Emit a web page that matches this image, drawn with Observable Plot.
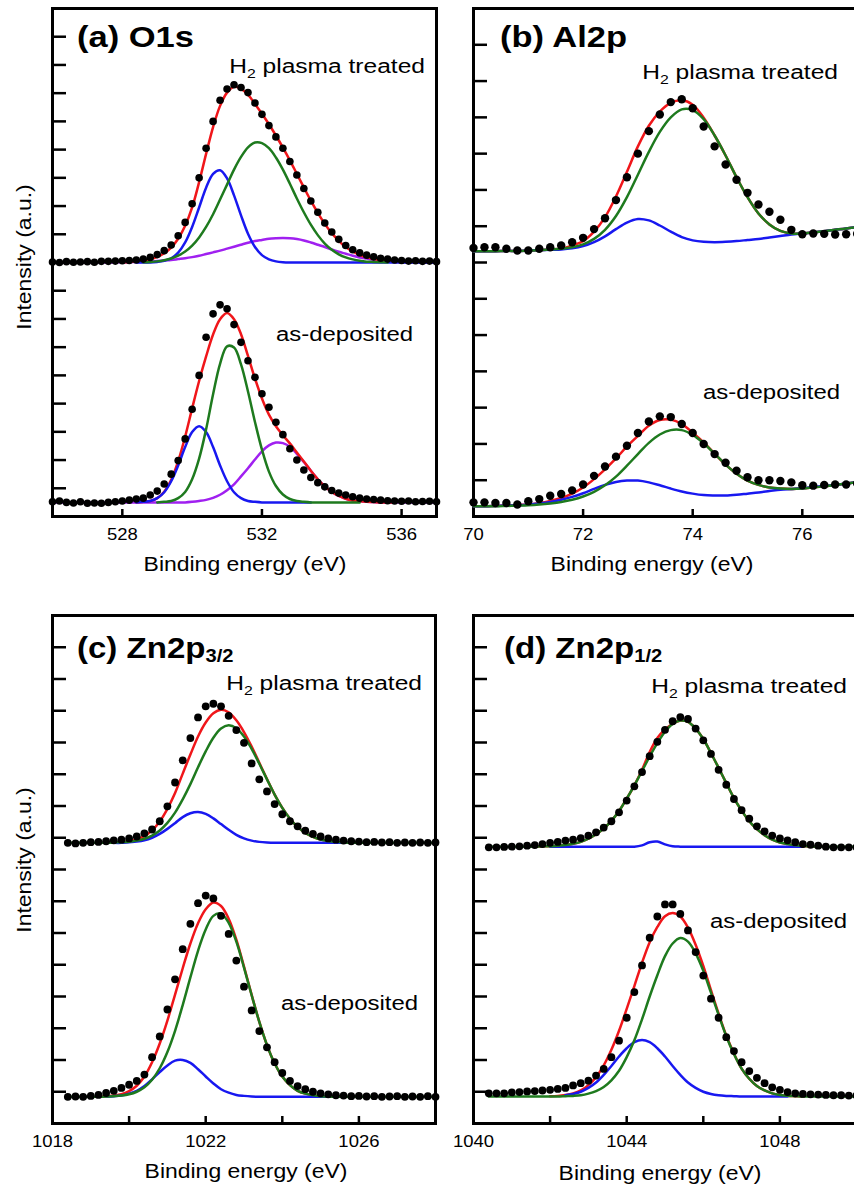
<!DOCTYPE html>
<html><head><meta charset="utf-8">
<script src="https://cdn.jsdelivr.net/npm/d3@7"></script>
<script src="https://cdn.jsdelivr.net/npm/@observablehq/plot@0.6"></script>
<style>
html,body{margin:0;padding:0;background:#fff;overflow:hidden;width:854px;height:1189px;}
#fig{position:relative;width:854px;height:1189px;overflow:hidden;}
</style></head>
<body><div id="fig"></div>
<script>
const _ = null;
// ---------- (a) O1s ----------
const eA = [526.0,526.2,526.4,526.6,526.8,527.0,527.2,527.4,527.6,527.8,528.0,528.2,528.4,528.6,528.8,529.0,529.2,529.4,529.6,529.8,530.0,530.2,530.4,530.6,530.8,531.0,531.2,531.4,531.6,531.8,532.0,532.2,532.4,532.6,532.8,533.0,533.2,533.4,533.6,533.8,534.0,534.2,534.4,534.6,534.8,535.0,535.2,535.4,535.6,535.8,536.0,536.2,536.4,536.6,536.8,537.0];
const aPlasmaDots = [0.02,0,0.03,0.01,0.02,0.03,0.01,0.04,0.04,0.05, 0.06,0.07,0.09,0.12,0.18,0.28,0.42,0.62,0.95,1.42, 2.08,3.0,4.05,5.0,5.75,6.15,6.3,6.2,6.02,5.65, 5.25,4.85,4.45,4.05,3.58,3.1,2.62,2.18,1.78,1.4, 1.08,0.82,0.6,0.45,0.34,0.26,0.2,0.15,0.12,0.09, 0.07,0.05,0.06,0.04,0.05,0.03];
const aPlasmaRed = [_,_,_,_,_,_,_,_,_,_, 0.01,0.02,0.04,0.07,0.12,0.2,0.33,0.53,0.84,1.3, 1.95,2.85,3.85,4.8,5.55,6.02,6.23,6.15,5.95,5.62, 5.27,4.9,4.5,4.07,3.62,3.14,2.66,2.19,1.76,1.37, 1.04,0.77,0.55,0.39,0.27,0.18,0.12,0.08,0.05,0.03, 0.02,_,_,_,_,_];
const aPlasmaBlue = [_,_,_,_,_,_,_,_,_,_, _,_,0,0,0,0.02,0.06,0.15,0.35,0.71, 1.26,1.95,2.65,3.14,3.27,2.98,2.38,1.67,1.02,0.55, 0.26,0.11,0.04,0.01,0,0,0,0,0,0, 0,0,0,0,0,0,0,0,0,0, 0,0,0,0,0,0];
const aPlasmaGreen = [_,_,_,_,_,_,_,_,_,_, _,_,_,0.01,0.02,0.04,0.08,0.14,0.24,0.39, 0.6,0.89,1.26,1.71,2.23,2.76,3.29,3.74,4.08,4.25, 4.23,4.05,3.72,3.29,2.79,2.27,1.78,1.34,0.97,0.67, 0.45,0.29,0.18,0.11,0.06,0.03,0.02,0.01,0,_, _,_,_,_,_,_];
const aPlasmaPurple = [0,0,0,0,0,0,0,0,0,0, 0.01,0.01,0.02,0.02,0.03,0.05,0.07,0.09,0.12,0.15, 0.19,0.24,0.3,0.36,0.42,0.49,0.56,0.63,0.7,0.76, 0.8,0.84,0.86,0.87,0.86,0.83,0.78,0.71,0.63,0.55, 0.46,0.38,0.31,0.24,0.18,0.14,0.1,0.07,0.05,0.03, 0.02,0.01,0.01,0,0,0];
const aAsDots = [0.02,0.05,0,-0.02,0.02,-0.03,-0.02,-0.03,0,0.02, 0.05,0.08,0.12,0.15,0.26,0.4,0.65,1.0,1.48,2.25, 3.3,4.5,5.85,6.68,7.0,6.86,6.3,5.67,5.02,4.43, 3.85,3.37,2.84,2.4,1.9,1.5,1.15,0.88,0.7,0.55, 0.42,0.33,0.26,0.2,0.15,0.12,0.1,0.08,0.06,0.05, 0.04,0.05,0.02,0.03,0.04,0.02];
const aAsRed = [_,_,_,_,_,_,_,_,_,_, _,_,0,0.02,0.05,0.15,0.38,0.8,1.46,2.33, 3.33,4.3,5.17,5.95,6.49,6.71,6.49,5.96,5.19,4.39, 3.68,3.11,2.7,2.38,2.09,1.77,1.45,1.12,0.82,0.57, 0.37,0.23,0.13,0.07,0.04,0.02,0.01,0,0,0, _,_,_,_,_,_];
const aAsBlue = [_,_,_,_,_,_,_,_,_,_, _,_,0,0.02,0.05,0.15,0.36,0.75,1.31,1.96, 2.49,2.7,2.49,1.96,1.31,0.75,0.36,0.15,0.05,0.02, 0,0,0,0,0,0,0,0,_,_, _,_,_,_,_,_,_,_,_,_, _,_,_,_,_,_];
const aAsGreen = [_,_,_,_,_,_,_,_,_,_, _,_,_,_,_,0,0.02,0.05,0.15,0.37, 0.82,1.55,2.59,3.83,4.91,5.53,5.49,4.89,3.93,2.85, 1.87,1.09,0.58,0.28,0.12,0.05,0.02,0,0,0, 0,0,0,0,0,_,_,_,_,_, _,_,_,_,_,_];
const aAsPurple = [0,0,0,0,0,0,0,0,0,0, 0,0,0,0,0,0,0,0,0,0, 0.02,0.05,0.09,0.16,0.27,0.43,0.64,0.92,1.21,1.52, 1.81,2.02,2.12,2.1,1.97,1.72,1.43,1.12,0.82,0.57, 0.37,0.23,0.13,0.07,0.04,0.02,0.01,0,0,0, 0,0,0,0,0,0];
const aOffsets = [9.0, 0.5];
const aYTicks = [1,2,3,4,5,6,7,8,9,10,11,12,13,14,15,16,17];
const aXTicks = [528,532,536];
const aXLabels = [528,532,536];

// ---------- (b) Al2p ----------
const eB = [70.0,70.2,70.4,70.6,70.8,71.0,71.2,71.4,71.6,71.8,72.0,72.2,72.4,72.6,72.8,73.0,73.2,73.4,73.6,73.8,74.0,74.2,74.4,74.6,74.8,75.0,75.2,75.4,75.6,75.8,76.0,76.2,76.4,76.6,76.8,77.0];
const bPlasmaDots = [7.40,7.42,7.42,7.38,7.33,7.33,7.38,7.42,7.47,7.56, 7.68,7.92,8.22,8.72,9.35,10.0,10.62,11.08,11.42,11.5, 11.25,10.75,10.2,9.7,9.28,8.92,8.6,8.4,8.18,7.9, 7.78,7.8,7.79,7.77,7.78,7.79];
const bPlasmaRed = [7.31,7.31,7.31,7.32,7.32,7.33,7.34,7.36,7.38,7.47, 7.59,7.85,8.25,8.82,9.5,10.2,10.77,11.16,11.4,11.47, 11.35,10.99,10.5,9.95,9.35,8.8,8.35,8.05,7.87,7.8, 7.8,7.83,7.86,7.9,7.94,7.97];
const bPlasmaBlue = [7.31,7.31,7.31,7.32,7.32,7.33,7.34,7.35,7.36,7.39, 7.45,7.56,7.72,7.92,8.1,8.2,8.16,8.02,7.85,7.7, 7.61,7.57,7.56,7.57,7.59,7.62,7.65,7.69,7.73,7.77, 7.8,7.83,7.86,7.9,7.94,7.97];
const bPlasmaGreen = [7.31,7.31,7.31,7.32,7.32,7.33,7.34,7.36,7.38,7.42, 7.5,7.65,7.9,8.28,8.8,9.42,10.05,10.6,11.0,11.22, 11.2,10.95,10.5,9.95,9.35,8.8,8.35,8.05,7.87,7.8, 7.8,7.83,7.86,7.9,7.94,7.97];
const bAsDots = [0.39,0.39,0.37,0.37,0.33,0.42,0.48,0.57,0.62,0.72, 0.88,1.12,1.38,1.65,1.95,2.3,2.62,2.76,2.74,2.55, 2.3,2.0,1.72,1.48,1.26,1.08,1.0,1.0,0.98,0.94, 0.86,0.85,0.87,0.88,0.88,0.91];
const bAsRed = [0.28,0.28,0.29,0.3,0.32,0.33,0.37,0.43,0.51,0.63, 0.8,1.03,1.3,1.6,1.93,2.22,2.5,2.66,2.67,2.55, 2.31,2.04,1.73,1.43,1.18,0.99,0.87,0.8,0.77,0.76, 0.77,0.8,0.83,0.87,0.91,0.95];
const bAsBlue = [0.28,0.28,0.29,0.3,0.31,0.33,0.36,0.4,0.46,0.54, 0.64,0.76,0.87,0.95,0.99,0.99,0.94,0.86,0.77,0.69, 0.63,0.59,0.58,0.58,0.6,0.63,0.66,0.7,0.74,0.76, 0.78,0.81,0.84,0.87,0.91,0.95];
const bAsGreen = [0.28,0.28,0.28,0.29,0.3,0.31,0.33,0.36,0.4,0.46, 0.55,0.68,0.86,1.1,1.4,1.72,2.03,2.26,2.38,2.38, 2.25,2.02,1.73,1.43,1.18,0.99,0.87,0.8,0.77,0.76, 0.77,0.8,0.83,0.87,0.91,0.95];
const bOffsets = [0, 0];
const bYTicks = [1,2,3,4,5,6,7,8,9,10,11,12,13];
const bXTicks = [72,74,76];
const bXLabels = [70,72,74,76];

// ---------- (c) Zn2p3/2 ----------
const eC = [1018.4,1018.6,1018.8,1019.0,1019.2,1019.4,1019.6,1019.8,1020.0,1020.2,1020.4,1020.6,1020.8,1021.0,1021.2,1021.4,1021.6,1021.8,1022.0,1022.2,1022.4,1022.6,1022.8,1023.0,1023.2,1023.4,1023.6,1023.8,1024.0,1024.2,1024.4,1024.6,1024.8,1025.0,1025.2,1025.4,1025.6,1025.8,1026.0,1026.2,1026.4,1026.6,1026.8,1027.0,1027.2,1027.4,1027.6,1027.8,1028.0];
const cPlasmaDots = [0,-0.02,0,0.02,0.03,0.05,0.08,0.1,0.14,0.2, 0.3,0.42,0.68,1.15,1.9,2.6,3.3,3.95,4.3,4.38, 4.3,4.0,3.55,3.15,2.5,2.0,1.62,1.22,0.9,0.68, 0.52,0.38,0.28,0.2,0.14,0.1,0.07,0.05,0.04,0.02, 0.03,0.01,0.02,0,0.01,0,0.01,0,0.01];
const cPlasmaRed = [_,_,_,_,_,0,0.01,0.02,0.05,0.11, 0.21,0.39,0.67,1.07,1.57,2.18,2.78,3.35,3.79,4.08, 4.19,4.11,3.86,3.49,3.03,2.52,2.01,1.52,1.1,0.76, 0.5,0.31,0.19,0.1,0.06,0.03,0.01,0,0,_, _,_,_,_,_,_,_,_,_];
const cPlasmaBlue = [_,_,_,_,_,_,0,0,0.02,0.04, 0.08,0.16,0.28,0.44,0.62,0.81,0.93,0.97,0.91,0.77, 0.59,0.41,0.25,0.14,0.07,0.03,0.01,0,0,0, 0,0,0,0,0,0,0,0,_,_, _,_,_,_,_,_,_,_,_];
const cPlasmaGreen = [0,0,0,0,0,0,0.01,0.02,0.03,0.07, 0.13,0.23,0.39,0.63,0.95,1.37,1.85,2.38,2.88,3.31, 3.6,3.7,3.61,3.35,2.96,2.49,2.0,1.52,1.1,0.76, 0.5,0.31,0.19,0.1,0.06,0.03,0.01,0,0,0, 0,0,0,0,0,0,0,0,0];
const cAsDots = [0,0.01,0,0.03,0.06,0.12,0.19,0.28,0.38,0.5, 0.7,1.25,1.9,2.75,3.7,4.65,5.45,6.1,6.34,6.25, 5.7,5.13,4.29,3.47,2.72,2.07,1.56,1.09,0.75,0.5, 0.34,0.24,0.16,0.11,0.08,0.05,0.04,0.02,0.03,0.01, 0.02,0,0.01,0.02,0,0.01,0,0.02,0];
const cAsRed = [_,_,_,_,0,0.02,0.04,0.08,0.18,0.35, 0.64,1.09,1.68,2.4,3.22,4.05,4.83,5.47,5.91,6.12, 6.01,5.61,4.95,4.1,3.21,2.36,1.63,1.05,0.64,0.37, 0.19,0.1,0.05,0.02,0.01,0,0,_,_,_, _,_,_,_,_,_,_,_,_];
const cAsBlue = [_,_,_,_,_,0.01,0.02,0.04,0.1,0.19, 0.34,0.55,0.78,0.99,1.14,1.16,1.07,0.87,0.64,0.42, 0.24,0.13,0.06,0.03,0.01,0,0,0,0,0, 0,0,0,0,0,_,_,_,_,_, _,_,_,_,_,_,_,_,_];
const cAsGreen = [0,0,0,0,0,0.01,0.02,0.04,0.08,0.16, 0.3,0.54,0.9,1.41,2.08,2.89,3.76,4.6,5.27,5.7, 5.77,5.48,4.89,4.07,3.2,2.36,1.63,1.05,0.64,0.37, 0.19,0.1,0.05,0.02,0.01,0,0,0,0,0, 0,0,0,0,0,0,0,0,0];
const cOffsets = [8.84, 0.84];
const cYTicks = [1,2,3,4,5,6,7,8,9,10,11,12,13,14,15];
const cXTicks = [1020,1022,1024,1026];
const cXLabels = [1018,1022,1026];

// ---------- (d) Zn2p1/2 ----------
const eD = [1040.4,1040.6,1040.8,1041.0,1041.2,1041.4,1041.6,1041.8,1042.0,1042.2,1042.4,1042.6,1042.8,1043.0,1043.2,1043.4,1043.6,1043.8,1044.0,1044.2,1044.4,1044.6,1044.8,1045.0,1045.2,1045.4,1045.6,1045.8,1046.0,1046.2,1046.4,1046.6,1046.8,1047.0,1047.2,1047.4,1047.6,1047.8,1048.0,1048.2,1048.4,1048.6,1048.8,1049.0,1049.2,1049.4,1049.6,1049.8,1050.0];
const dPlasmaDots = [-0.02,-0.02,-0.01,0,0.01,0.03,0.05,0.08,0.12,0.15, 0.19,0.22,0.27,0.35,0.45,0.6,0.8,1.08,1.45,1.9, 2.35,2.85,3.3,3.68,3.95,4.08,4.02,3.72,3.35,2.92, 2.42,1.95,1.5,1.15,0.88,0.64,0.48,0.35,0.26,0.2, 0.14,0.08,0.06,0.03,0,-0.02,-0.02,-0.02,-0.02];
const dPlasmaRed = [_,_,_,_,_,0,0,0.01,0.01,0.03, 0.05,0.09,0.15,0.25,0.39,0.57,0.81,1.12,1.51,1.93, 2.42,2.98,3.42,3.69,3.87,3.97,3.93,3.72,3.39,2.95, 2.48,2.0,1.53,1.14,0.8,0.55,0.36,0.22,0.13,0.08, 0.04,0.02,0.01,0,0,_,_,_,_];
const dPlasmaBlue = [_,_,_,_,_,_,_,_,0,0, 0,0,0,0,0,0,0,0,0,0, 0.04,0.14,0.16,0.07,0.01,0,0,0,0,0, 0,0,0,0,0,0,0,0,0,0, 0,0,_,_,_,_,_,_,_];
const dPlasmaGreen = [0,0,0,0,0,0,0,0.01,0.01,0.03, 0.05,0.09,0.15,0.25,0.39,0.57,0.81,1.12,1.51,1.93, 2.38,2.84,3.26,3.62,3.86,3.97,3.93,3.72,3.39,2.95, 2.48,2.0,1.53,1.14,0.8,0.55,0.36,0.22,0.13,0.08, 0.04,0.02,0.01,0,0,0,0,0,0];
const dAsDots = [0.1,0.1,0.1,0.13,0.14,0.16,0.17,0.19,0.21,0.24, 0.27,0.35,0.42,0.5,0.66,0.87,1.24,1.76,2.48,3.29, 4.13,5.0,5.67,6.05,6.05,5.75,5.23,4.55,3.81,3.08, 2.48,1.87,1.43,1.08,0.8,0.59,0.42,0.29,0.21,0.14, 0.1,0.08,0.07,0.06,0.05,0.04,0.04,0.03,0.03];
const dAsRed = [_,_,_,_,_,_,_,_,0.01,0.02, 0.05,0.1,0.19,0.36,0.61,0.98,1.47,2.07,2.76,3.48, 4.21,4.86,5.34,5.68,5.78,5.67,5.32,4.78,4.11,3.35, 2.61,1.92,1.35,0.88,0.56,0.33,0.19,0.1,0.05,0.02, 0.01,0,_,_,_,_,_,_,_];
const dAsBlue = [_,_,_,_,_,_,_,_,_,_, 0.04,0.08,0.15,0.27,0.44,0.68,0.96,1.26,1.52,1.71, 1.78,1.71,1.52,1.26,0.96,0.68,0.44,0.27,0.15,0.08, 0.04,0.02,0.01,0,0,0,0,0,0,0, _,_,_,_,_,_,_,_,_];
const dAsGreen = [0,0,0,0,0,0,0,0,0,0, 0.01,0.02,0.04,0.09,0.17,0.3,0.51,0.81,1.24,1.77, 2.43,3.15,3.82,4.42,4.82,4.99,4.88,4.51,3.96,3.27, 2.57,1.9,1.34,0.88,0.56,0.33,0.19,0.1,0.05,0.02, 0.01,0,0,0,0,0,0,0,0];
const dOffsets = [8.72, 0.85];
const dYTicks = [1,2,3,4,5,6,7,8,9,10,11,12,13,14,15];
const dXTicks = [1042,1044,1046,1048];
const dXLabels = [1040,1044,1048];

// ---------- rendering ----------
const FONT = '"Liberation Sans", Arial, Helvetica, sans-serif';
const SX = 1.12;
const COLORS = {red: "#f0161a", green: "#1e7a1e", blue: "#1818f0", purple: "#a020f0"};

function rows(E, vals, offset) {
  return E.map((x, i) => ({x, y: vals[i] == null ? NaN : vals[i] + offset}));
}

function rich(parts, {x, y, anchor = "start", size = 20, weight = "normal", rotate = 0, sx = SX}) {
  return () => {
    const t = d3.create("svg:text")
      .attr("transform", `translate(${x},${y})${rotate ? ` rotate(${rotate})` : ""} scale(${sx},1)`)
      .attr("data-stretched", "1")
      .attr("text-anchor", anchor).attr("font-family", FONT)
      .attr("font-size", size).attr("font-weight", weight).attr("fill", "#000");
    for (const p of parts) {
      const s = t.append("tspan").text(p.t);
      if (p.size) s.attr("font-size", p.size);
      if (p.dy) s.attr("dy", p.dy);
    }
    return t.node();
  };
}

function panel(cfg) {
  const marks = [
    Plot.frame({stroke: "#000", strokeWidth: 3}),
    Plot.axisY({anchor: "left", ticks: cfg.yTicks, tickSize: -14, strokeWidth: 2.5, fill: "none", label: null}),
    Plot.axisX({anchor: "bottom", ticks: cfg.xTicks, tickSize: -7, strokeWidth: 2.5, fill: "none", label: null}),
    Plot.axisX({anchor: "bottom", ticks: cfg.xLabels, tickSize: 0, tickPadding: 12, fontSize: 16.5, fontFamily: FONT, fill: "#000", tickFormat: d => String(d), label: null})
  ];
  cfg.spectra.forEach((s) => {
    for (const c of s.curves) {
      marks.push(Plot.line(rows(cfg.E, c.v, s.offset), {x: "x", y: "y", stroke: COLORS[c.color], strokeWidth: 2.5, curve: "catmull-rom"}));
    }
  });
  cfg.spectra.forEach((s) => {
    marks.push(Plot.dot(rows(cfg.E, s.dots, s.offset), {x: "x", y: "y", r: cfg.r, fill: "#000", stroke: "none"}));
  });
  marks.push(...cfg.texts);
  const svg = Plot.plot({
    width: cfg.width, height: cfg.height,
    marginLeft: cfg.m[0], marginRight: cfg.m[1], marginTop: cfg.m[2], marginBottom: cfg.m[3],
    x: {domain: cfg.xDomain},
    y: {domain: cfg.yDomain},
    style: {background: "transparent", maxWidth: "none", overflow: "visible", fontFamily: FONT},
    marks
  });
  svg.style.position = "absolute";
  svg.style.left = cfg.left + "px";
  svg.style.top = cfg.top + "px";
  svg.querySelectorAll("text:not([data-stretched])").forEach(t => {
    const tr = t.getAttribute("transform") || "";
    t.setAttribute("transform", tr + ` scale(${SX},1)`);
  });
  document.getElementById("fig").append(svg);
}

const H2 = [{t: "H"}, {t: "2", size: 13.5, dy: 5}, {t: " plasma treated", dy: -5}];
const T = {size: 29.5, weight: "bold", sx: 1.17};
const HT = {anchor: "end", size: 21, sx: 1.17};
const AD = {anchor: "end", size: 21, sx: 1.14};

panel({
  left: 0, top: 0, width: 440, height: 595, m: [52, 4, 8, 79],
  xDomain: [526, 537], yDomain: [0, 18], E: eA, r: 3.8,
  yTicks: aYTicks, xTicks: aXTicks, xLabels: aXLabels,
  spectra: [
    {offset: aOffsets[0], dots: aPlasmaDots, curves: [{v: aPlasmaPurple, color: "purple"}, {v: aPlasmaRed, color: "red"}, {v: aPlasmaBlue, color: "blue"}, {v: aPlasmaGreen, color: "green"}]},
    {offset: aOffsets[1], dots: aAsDots, curves: [{v: aAsPurple, color: "purple"}, {v: aAsRed, color: "red"}, {v: aAsBlue, color: "blue"}, {v: aAsGreen, color: "green"}]}
  ],
  texts: [
    rich([{t: "(a) O1s"}], {x: 77, y: 46.5, ...T}),
    rich(H2, {x: 425, y: 73, ...HT}),
    rich([{t: "as-deposited"}], {x: 413, y: 340.5, ...AD}),
    rich([{t: "Intensity (a.u.)"}], {x: 31, y: 257, anchor: "middle", size: 20.5, rotate: -90}),
    rich([{t: "Binding energy (eV)"}], {x: 245, y: 571, anchor: "middle", size: 20.5})
  ]
});

panel({
  left: 430, top: 0, width: 430, height: 595, m: [43, 3.4, 8, 79],
  xDomain: [70, 77], yDomain: [0, 14], E: eB, r: 4.2,
  yTicks: bYTicks, xTicks: bXTicks, xLabels: bXLabels,
  spectra: [
    {offset: bOffsets[0], dots: bPlasmaDots, curves: [{v: bPlasmaRed, color: "red"}, {v: bPlasmaBlue, color: "blue"}, {v: bPlasmaGreen, color: "green"}]},
    {offset: bOffsets[1], dots: bAsDots, curves: [{v: bAsRed, color: "red"}, {v: bAsBlue, color: "blue"}, {v: bAsGreen, color: "green"}]}
  ],
  texts: [
    rich([{t: "(b) Al2p"}], {x: 70, y: 46.5, ...T}),
    rich(H2, {x: 408, y: 79, ...HT}),
    rich([{t: "as-deposited"}], {x: 410, y: 398.5, ...AD}),
    rich([{t: "Binding energy (eV)"}], {x: 222, y: 570.5, anchor: "middle", size: 20.5})
  ]
});

panel({
  left: 0, top: 595, width: 440, height: 594, m: [52, 5, 20, 66],
  xDomain: [1018, 1028], yDomain: [0, 16], E: eC, r: 3.9,
  yTicks: cYTicks, xTicks: cXTicks, xLabels: cXLabels,
  spectra: [
    {offset: cOffsets[0], dots: cPlasmaDots, curves: [{v: cPlasmaRed, color: "red"}, {v: cPlasmaBlue, color: "blue"}, {v: cPlasmaGreen, color: "green"}]},
    {offset: cOffsets[1], dots: cAsDots, curves: [{v: cAsRed, color: "red"}, {v: cAsBlue, color: "blue"}, {v: cAsGreen, color: "green"}]}
  ],
  texts: [
    rich([{t: "(c) Zn2p"}, {t: "3/2", size: 18, dy: 4}], {x: 77, y: 63, ...T, sx: 1.12}),
    rich(H2, {x: 422, y: 95, ...HT}),
    rich([{t: "as-deposited"}], {x: 418, y: 415, ...AD}),
    rich([{t: "Intensity (a.u.)"}], {x: 31, y: 265, anchor: "middle", size: 20.5, rotate: -90}),
    rich([{t: "Binding energy (eV)"}], {x: 246, y: 582.5, anchor: "middle", size: 20.5})
  ]
});

panel({
  left: 430, top: 595, width: 430, height: 594, m: [43, 4, 20, 66],
  xDomain: [1040, 1050], yDomain: [0, 16], E: eD, r: 3.9,
  yTicks: dYTicks, xTicks: dXTicks, xLabels: dXLabels,
  spectra: [
    {offset: dOffsets[0], dots: dPlasmaDots, curves: [{v: dPlasmaRed, color: "red"}, {v: dPlasmaBlue, color: "blue"}, {v: dPlasmaGreen, color: "green"}]},
    {offset: dOffsets[1], dots: dAsDots, curves: [{v: dAsRed, color: "red"}, {v: dAsBlue, color: "blue"}, {v: dAsGreen, color: "green"}]}
  ],
  texts: [
    rich([{t: "(d) Zn2p"}, {t: "1/2", size: 18, dy: 4}], {x: 74, y: 63, ...T, sx: 1.12}),
    rich(H2, {x: 417, y: 97.5, ...HT}),
    rich([{t: "as-deposited"}], {x: 417, y: 332.5, ...AD}),
    rich([{t: "Binding energy (eV)"}], {x: 230, y: 585, anchor: "middle", size: 20.5})
  ]
});
</script>
</body></html>
